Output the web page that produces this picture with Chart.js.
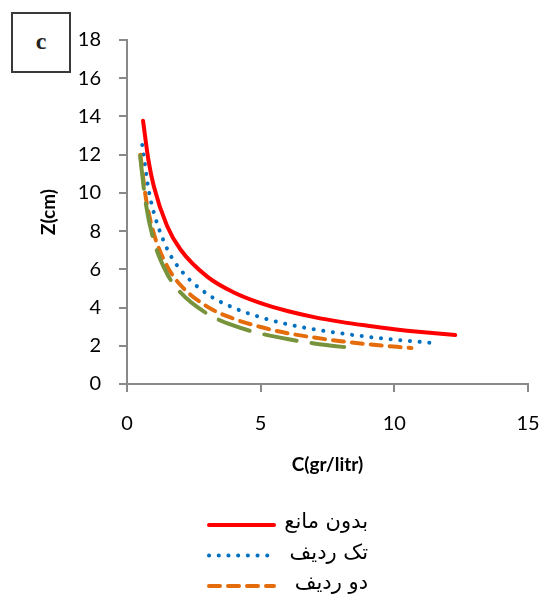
<!DOCTYPE html>
<html>
<head>
<meta charset="utf-8">
<script src="https://cdn.jsdelivr.net/npm/chart.js@4/dist/chart.umd.min.js"></script>
<style>
  html, body { margin: 0; padding: 0; background: #fff; }
  #wrap { position: relative; width: 542px; height: 595px; }
  #c { display: block; }
  #panel {
    position: absolute; left: 11px; top: 12px; width: 56px; height: 57px;
    border: 2px solid #3a3a3a; background: #fff;
    font: bold 24px "Liberation Serif", "DejaVu Serif", serif; color: #222;
    display: flex; align-items: center; justify-content: center;
  }
</style>
</head>
<body>
<div id="wrap">
  <canvas id="c" width="542" height="595"></canvas>
  <div id="panel"><span style="margin-top:-2px">c</span></div>
</div>
<script>
// ---- data ----
const seriesLabels = ["بدون مانع", "تک ردیف", "دو ردیف", "سه ردیف"];

const noBarrierC = [0.6, 0.8, 1, 1.5, 2, 3, 4, 5, 6, 7, 8, 9, 10, 11, 12.28];
const noBarrierZ = [13.77, 11.73, 10.36, 8.27, 7.04, 5.62, 4.79, 4.23, 3.82, 3.50, 3.25, 3.05, 2.87, 2.72, 2.56];

const oneRowC = [0.57, 0.8, 1, 1.5, 2, 3, 4, 5, 6, 7, 8, 9, 10, 11.6];
const oneRowZ = [12.51, 10.25, 8.99, 7.08, 5.98, 4.71, 3.98, 3.49, 3.13, 2.86, 2.65, 2.47, 2.32, 2.13];

const twoRowC = [0.5, 0.7, 1, 1.5, 2, 3, 4, 5, 6, 7, 8, 9, 10.64];
const twoRowZ = [12.0, 9.79, 7.89, 6.17, 5.18, 4.05, 3.41, 2.98, 2.66, 2.43, 2.24, 2.08, 1.88];

const threeRowC = [0.49, 0.7, 1, 1.5, 2, 3, 4, 5, 6, 7, 8.6];
const threeRowZ = [11.94, 9.47, 7.51, 5.77, 4.79, 3.68, 3.05, 2.64, 2.35, 2.12, 1.86];

const xTicks = [0, 5, 10, 15];
const yTicks = [0, 2, 4, 6, 8, 10, 12, 14, 16, 18];

const xTitle = "C(gr/litr)";
const yTitle = "Z(cm)";
// -------------------------------------

const pts = (xs, ys) => xs.map((x, i) => ({ x: x, y: ys[i] }));

const datasets = [
  { label: seriesLabels[0], data: pts(noBarrierC, noBarrierZ), borderColor: '#FF0000', borderWidth: 4,
    borderDash: [], borderCapStyle: 'round', order: 4, legendShow: true },
  { label: seriesLabels[1], data: pts(oneRowC, oneRowZ), borderColor: '#0070C0', borderWidth: 4,
    borderDash: [0.1, 9.6], borderCapStyle: 'round', order: 3, legendShow: true },
  { label: seriesLabels[2], data: pts(twoRowC, twoRowZ), borderColor: '#E46C0A', borderWidth: 4,
    borderDash: [11, 8], borderCapStyle: 'round', order: 2, legendShow: true },
  { label: seriesLabels[3], data: pts(threeRowC, threeRowZ), borderColor: '#77933C', borderWidth: 4,
    borderDash: [33, 15], borderCapStyle: 'round', order: 1, legendShow: false }
].map(d => Object.assign({ showLine: true, pointRadius: 0, pointHoverRadius: 0, fill: false,
                           cubicInterpolationMode: 'monotone', backgroundColor: d.borderColor }, d));

const legendPlugin = {
  id: 'manualLegend',
  afterDraw(chart) {
    const ctx = chart.ctx;
    const x0 = 207, x1 = 276, textRight = 368;
    let y = 525;
    chart.data.datasets.forEach(ds => {
      if (!ds.legendShow) return;
      ctx.save();
      ctx.strokeStyle = ds.borderColor;
      ctx.lineWidth = ds.borderWidth;
      ctx.lineCap = ds.borderCapStyle;
      ctx.setLineDash(ds.borderDash);
      ctx.beginPath();
      ctx.moveTo(x0 + 2, y);
      ctx.lineTo(x1 - 2, y);
      ctx.stroke();
      ctx.setLineDash([]);
      ctx.fillStyle = '#000';
      ctx.font = '21px "DejaVu Sans", sans-serif';
      ctx.direction = 'rtl';
      ctx.textAlign = 'right';
      ctx.textBaseline = 'middle';
      ctx.fillText(ds.label, textRight, y - 2);
      ctx.restore();
      y += 30.5;
    });
  }
};

const axisColor = '#898989';
const tickFont = { family: 'Lato, "Liberation Sans", sans-serif', size: 20 };
const titleFont = { family: 'Lato, "Liberation Sans", sans-serif', size: 19, weight: 'bold' };

new Chart(document.getElementById('c'), {
  type: 'scatter',
  data: { datasets: datasets },
  plugins: [legendPlugin],
  options: {
    responsive: false,
    animation: false,
    layout: { padding: { left: 0, top: 40, right: 14, bottom: 111 } },
    plugins: { legend: { display: false }, tooltip: { enabled: false } },
    scales: {
      x: {
        type: 'linear', min: 0, max: 15,
        afterBuildTicks: s => { s.ticks = xTicks.map(v => ({ value: v })); },
        afterFit: s => { s.height = 100; s.paddingLeft = 0; s.paddingRight = 0; },
        ticks: { font: tickFont, color: '#000', padding: 20 },
        grid: { drawOnChartArea: false, drawTicks: true, tickLength: 8, color: axisColor, lineWidth: 2 },
        border: { display: true, color: axisColor, width: 2 },
        title: { display: true, text: xTitle, font: titleFont, color: '#000', padding: { top: 0, bottom: 8 } }
      },
      y: {
        type: 'linear', min: 0, max: 18,
        afterBuildTicks: s => { s.ticks = yTicks.map(v => ({ value: v })); },
        afterFit: s => { s.width = 127; s.paddingTop = 0; s.paddingBottom = 0; },
        ticks: { font: tickFont, color: '#000', padding: 18 },
        grid: { drawOnChartArea: false, drawTicks: true, tickLength: 8, color: axisColor, lineWidth: 2 },
        border: { display: true, color: axisColor, width: 2 },
        title: { display: true, text: yTitle, font: titleFont, color: '#000', padding: { top: 37, bottom: 0 } }
      }
    }
  }
});
</script>
</body>
</html>
